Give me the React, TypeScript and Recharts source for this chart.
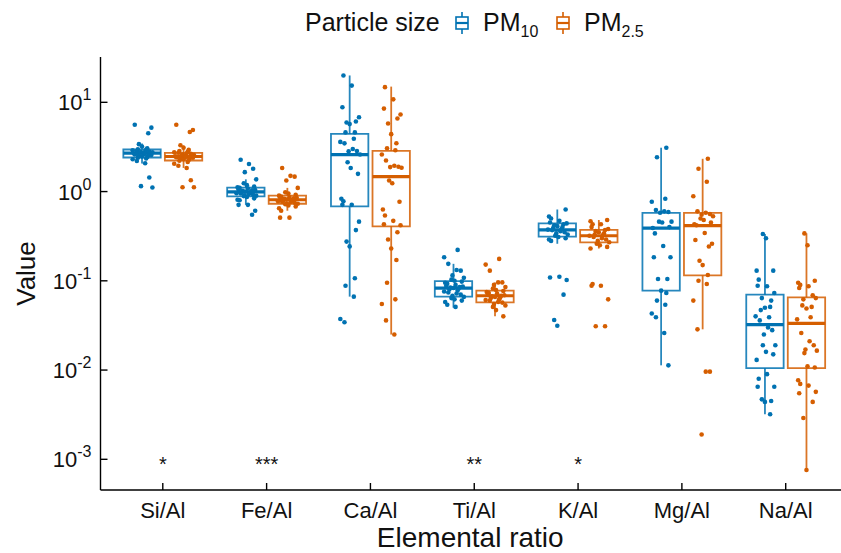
import React from 'react';
import {
  ComposedChart,
  XAxis,
  YAxis,
  Scatter,
  ReferenceArea,
  ReferenceLine,
  Label,
} from 'recharts';

const CATEGORIES = ['Si/Al', 'Fe/Al', 'Ca/Al', 'Ti/Al', 'K/Al', 'Mg/Al', 'Na/Al'];
const Y_TICKS = [0.001, 0.01, 0.1, 1, 10];
const SIGNIF = ['*', '***', '', '**', '*', '', ''];

// box statistics (whisker low, Q1, median, Q3, whisker high)
const PM10_LOWER = [2.06, 0.71, 0.0665, 0.05, 0.26, 0.0113, 0.0032];
const PM10_Q1 = [2.41, 0.885, 0.684, 0.0665, 0.313, 0.0776, 0.0105];
const PM10_MEDIAN = [2.69, 0.99, 2.6, 0.083, 0.372, 0.39, 0.0323];
const PM10_Q3 = [2.96, 1.11, 4.43, 0.099, 0.44, 0.577, 0.07];
const PM10_UPPER = [3.45, 1.37, 20, 0.155, 0.63, 3.1, 0.335];

const PM25_LOWER = [1.84, 0.61, 0.025, 0.04, 0.23, 0.0286, 0.00076];
const PM25_Q1 = [2.23, 0.73, 0.408, 0.0574, 0.27, 0.115, 0.0105];
const PM25_MEDIAN = [2.47, 0.81, 1.47, 0.068, 0.32, 0.416, 0.0334];
const PM25_Q3 = [2.72, 0.9, 2.86, 0.0776, 0.372, 0.577, 0.0653];
const PM25_UPPER = [3.3, 1.1, 15, 0.096, 0.48, 2.33, 0.34];

// individual samples, one list per ratio
const PM10_VALUES = [
  [5.6, 5.2, 4.5, 3.4, 3.2, 3.05, 2.98, 2.95, 2.9, 2.85, 2.82, 2.8, 2.78, 2.75, 2.72, 2.7, 2.69, 2.68, 2.65, 2.62, 2.6, 2.57, 2.55, 2.5, 2.47, 2.44, 2.4, 2.35, 2.3, 2.2, 2.08, 1.44, 1.15, 1.11],
  [2.27, 2.04, 1.8, 1.65, 1.37, 1.24, 1.18, 1.14, 1.12, 1.1, 1.08, 1.06, 1.04, 1.03, 1.02, 1.0, 0.99, 0.98, 0.97, 0.96, 0.95, 0.94, 0.92, 0.91, 0.9, 0.89, 0.87, 0.84, 0.81, 0.8, 0.71, 0.71, 0.61, 0.55],
  [20, 15.4, 8.8, 6.8, 6.1, 5.95, 5.7, 4.6, 4.6, 3.9, 3.6, 3.47, 3.0, 2.85, 2.83, 2.6, 2.13, 1.84, 1.58, 0.83, 0.78, 0.71, 0.71, 0.46, 0.37, 0.275, 0.243, 0.107, 0.088, 0.0665, 0.0373, 0.0343],
  [0.222, 0.184, 0.155, 0.132, 0.13, 0.115, 0.108, 0.103, 0.1, 0.098, 0.095, 0.093, 0.09, 0.088, 0.086, 0.085, 0.084, 0.083, 0.082, 0.08, 0.078, 0.076, 0.074, 0.072, 0.07, 0.068, 0.066, 0.064, 0.062, 0.06, 0.058, 0.054, 0.051],
  [0.63, 0.525, 0.5, 0.47, 0.45, 0.44, 0.43, 0.42, 0.41, 0.4, 0.39, 0.38, 0.375, 0.37, 0.36, 0.35, 0.34, 0.33, 0.32, 0.31, 0.3, 0.29, 0.28, 0.111, 0.109, 0.102, 0.07, 0.0364, 0.0314],
  [3.1, 2.42, 0.83, 0.77, 0.62, 0.6, 0.59, 0.58, 0.46, 0.46, 0.45, 0.4, 0.39, 0.34, 0.246, 0.184, 0.184, 0.105, 0.105, 0.0776, 0.073, 0.06, 0.054, 0.043, 0.039, 0.026, 0.0113],
  [0.335, 0.3, 0.13, 0.13, 0.103, 0.087, 0.088, 0.073, 0.06, 0.064, 0.05, 0.051, 0.047, 0.039, 0.04, 0.036, 0.03, 0.028, 0.025, 0.019, 0.019, 0.016, 0.015, 0.013, 0.008, 0.009, 0.0065, 0.0065, 0.0045, 0.0047, 0.0044, 0.0032],
];

const PM25_VALUES = [
  [5.6, 4.9, 4.65, 3.3, 3.1, 2.93, 2.85, 2.8, 2.75, 2.72, 2.68, 2.65, 2.6, 2.57, 2.55, 2.52, 2.5, 2.48, 2.46, 2.44, 2.42, 2.4, 2.37, 2.34, 2.3, 2.26, 2.22, 2.15, 2.05, 1.95, 1.84, 1.34, 1.12, 1.12],
  [1.84, 1.5, 1.47, 1.33, 1.1, 0.98, 0.95, 0.92, 0.9, 0.88, 0.87, 0.86, 0.85, 0.84, 0.83, 0.82, 0.81, 0.8, 0.79, 0.78, 0.77, 0.76, 0.75, 0.74, 0.73, 0.72, 0.7, 0.68, 0.65, 0.61, 0.51, 0.51],
  [14.8, 10.8, 8.5, 7.3, 6.6, 5.8, 4.4, 3.48, 3.06, 2.9, 2.6, 2.23, 1.95, 1.9, 1.88, 1.85, 1.33, 1.24, 0.77, 0.63, 0.54, 0.47, 0.43, 0.42, 0.35, 0.29, 0.23, 0.171, 0.095, 0.062, 0.055, 0.036, 0.025],
  [0.176, 0.152, 0.13, 0.096, 0.096, 0.09, 0.085, 0.082, 0.079, 0.077, 0.075, 0.073, 0.072, 0.07, 0.069, 0.068, 0.067, 0.066, 0.065, 0.064, 0.062, 0.061, 0.06, 0.058, 0.057, 0.055, 0.053, 0.051, 0.047, 0.04],
  [0.48, 0.465, 0.43, 0.43, 0.4, 0.38, 0.37, 0.36, 0.35, 0.34, 0.33, 0.325, 0.32, 0.31, 0.3, 0.29, 0.28, 0.27, 0.26, 0.25, 0.24, 0.23, 0.092, 0.088, 0.088, 0.062, 0.031, 0.031],
  [2.33, 1.8, 1.29, 0.886, 0.6, 0.58, 0.56, 0.55, 0.53, 0.5, 0.48, 0.45, 0.43, 0.42, 0.344, 0.287, 0.26, 0.242, 0.168, 0.15, 0.116, 0.1, 0.092, 0.06, 0.0286, 0.0096, 0.0096, 0.0019],
  [0.34, 0.25, 0.1, 0.095, 0.09, 0.087, 0.083, 0.064, 0.069, 0.062, 0.049, 0.051, 0.053, 0.039, 0.037, 0.026, 0.021, 0.019, 0.017, 0.0165, 0.0155, 0.011, 0.0107, 0.0077, 0.007, 0.0067, 0.0055, 0.0057, 0.0044, 0.0029, 0.00076],
];

const BLUE = '#0072B2';
const ORANGE = '#D55E00';
const FONT = '"Liberation Sans", Arial, sans-serif';

// horizontal jitter pattern (category units)
const JITTER = [-0.07, 0.04, -0.02, 0.09, -0.09, 0.01, 0.06, -0.05, 0.08, -0.03, 0.03, -0.08, 0.0, 0.07, -0.06, 0.05, -0.01, 0.02, -0.04, 0.1];
const DODGE = 0.2;
const HALF_BOX = 0.18;

const SERIES = [
  { key: 'pm10', color: BLUE, shift: -DODGE, values: PM10_VALUES, lower: PM10_LOWER, q1: PM10_Q1, median: PM10_MEDIAN, q3: PM10_Q3, upper: PM10_UPPER },
  { key: 'pm25', color: ORANGE, shift: DODGE, values: PM25_VALUES, lower: PM25_LOWER, q1: PM25_Q1, median: PM25_MEDIAN, q3: PM25_Q3, upper: PM25_UPPER },
];

const pointsFor = (s: (typeof SERIES)[number]) =>
  s.values.flatMap((vals, i) =>
    vals.map((v, j) => ({ x: i + 1 + s.shift + JITTER[(j * 3 + i * 7) % JITTER.length], y: v }))
  );

const signifRows = SIGNIF.map((t, i) => ({ x: i + 1, y: 0.001, text: t })).filter((r) => r.text);

const YTick = (props: any) => {
  const { x, y, payload } = props;
  const exp = Math.round(Math.log10(payload.value));
  return (
    <g>
      <line x1={x + 9} x2={x + 16} y1={y} y2={y} stroke="#000" strokeWidth={1.4} />
      <text x={x} y={y + 8} textAnchor="end" fontFamily={FONT} fontSize={22} fill="#111">
        10
        <tspan dy={-10} fontSize={16}>
          {exp}
        </tspan>
      </text>
    </g>
  );
};

const XTick = (props: any) => {
  const { x, y, payload } = props;
  return (
    <g>
      <line x1={x} x2={x} y1={y} y2={y - 7} stroke="#000" strokeWidth={1.4} />
      <text x={x} y={y + 28} textAnchor="middle" fontFamily={FONT} fontSize={22} fill="#111">
        {CATEGORIES[payload.value - 1]}
      </text>
    </g>
  );
};

function LegendIcon({ x, color }: { x: number; color: string }) {
  return (
    <g stroke={color} strokeWidth={1.6} fill="none">
      <line x1={x + 6} x2={x + 6} y1={12} y2={34} />
      <rect x={x} y={17} width={12} height={12} fill="#fff" />
      <line x1={x} x2={x + 12} y1={23} y2={23} strokeWidth={2.2} />
    </g>
  );
}

function ChartLegend() {
  return (
    <svg width={841} height={50} style={{ position: 'absolute', left: 0, top: 0 }}>
      <text x={305} y={31} fontFamily={FONT} fontSize={25} fill="#111">
        Particle size
      </text>
      <LegendIcon x={456} color={BLUE} />
      <text x={483} y={31} fontFamily={FONT} fontSize={25} fill="#111">
        PM<tspan dy={6} fontSize={16}>10</tspan>
      </text>
      <LegendIcon x={557} color={ORANGE} />
      <text x={584} y={31} fontFamily={FONT} fontSize={25} fill="#111">
        PM<tspan dy={6} fontSize={16}>2.5</tspan>
      </text>
    </svg>
  );
}

export default function App() {
  const boxes = SERIES.flatMap((s) =>
    CATEGORIES.flatMap((c, i) => {
      const xc = i + 1 + s.shift;
      return [
        <ReferenceLine
          key={`${s.key}-wu-${c}`}
          segment={[{ x: xc, y: s.q3[i] }, { x: xc, y: s.upper[i] }]}
          stroke={s.color}
          strokeWidth={1.8}
          strokeOpacity={0.85}
        />,
        <ReferenceLine
          key={`${s.key}-wl-${c}`}
          segment={[{ x: xc, y: s.lower[i] }, { x: xc, y: s.q1[i] }]}
          stroke={s.color}
          strokeWidth={1.8}
          strokeOpacity={0.85}
        />,
        <ReferenceArea
          key={`${s.key}-box-${c}`}
          x1={xc - HALF_BOX}
          x2={xc + HALF_BOX}
          y1={s.q1[i]}
          y2={s.q3[i]}
          fill="none"
          stroke={s.color}
          strokeWidth={1.8}
          strokeOpacity={0.85}
        />,
        <ReferenceLine
          key={`${s.key}-med-${c}`}
          segment={[{ x: xc - HALF_BOX, y: s.median[i] }, { x: xc + HALF_BOX, y: s.median[i] }]}
          stroke={s.color}
          strokeWidth={3.2}
        />,
      ];
    })
  );

  return (
    <div style={{ position: 'fixed', left: 0, top: 0, width: 841, height: 553, overflow: 'hidden', background: '#fff' }}>
      <ComposedChart width={860} height={553} margin={{ top: 57, right: 12, bottom: 0, left: 0 }}>
        <XAxis
          type="number"
          dataKey="x"
          domain={[0.4, 7.6]}
          ticks={[1, 2, 3, 4, 5, 6, 7]}
          allowDataOverflow
          height={63}
          tickSize={0}
          tickMargin={0}
          tick={<XTick />}
          axisLine={{ stroke: '#000', strokeWidth: 1.4 }}
          tickLine={false}
        >
          <Label
            content={(p: any) => {
              const vb = p.viewBox;
              return (
                <text x={vb.x + vb.width / 2 - 4} y={547} textAnchor="middle" fontFamily={FONT} fontSize={28} fill="#111">
                  Elemental ratio
                </text>
              );
            }}
          />
        </XAxis>
        <YAxis
          type="number"
          dataKey="y"
          scale="log"
          domain={[0.000453, 32.2]}
          ticks={Y_TICKS}
          allowDataOverflow
          width={100.5}
          tickSize={0}
          tickMargin={9}
          tick={<YTick />}
          axisLine={{ stroke: '#000', strokeWidth: 1.4 }}
          tickLine={false}
        >
          <Label
            content={(p: any) => {
              const vb = p.viewBox;
              const cy = vb.y + vb.height / 2;
              return (
                <text transform={`translate(35, ${cy}) rotate(-90)`} textAnchor="middle" fontFamily={FONT} fontSize={26} fill="#111">
                  Value
                </text>
              );
            }}
          />
        </YAxis>
        {boxes}
        {SERIES.map((s) => (
          <Scatter
            key={s.key}
            name={s.key}
            data={pointsFor(s)}
            fill={s.color}
            isAnimationActive={false}
            shape={(p: any) => <circle cx={p.cx} cy={p.cy} r={2.3} fill={s.color} />}
          />
        ))}
        <Scatter
          name="signif"
          data={signifRows}
          isAnimationActive={false}
          shape={(p: any) => (
            <text x={p.cx} y={p.cy + 12} textAnchor="middle" fontFamily={FONT} fontSize={20} fill="#111">
              {p.payload.text}
            </text>
          )}
        />
      </ComposedChart>
      <ChartLegend />
    </div>
  );
}
